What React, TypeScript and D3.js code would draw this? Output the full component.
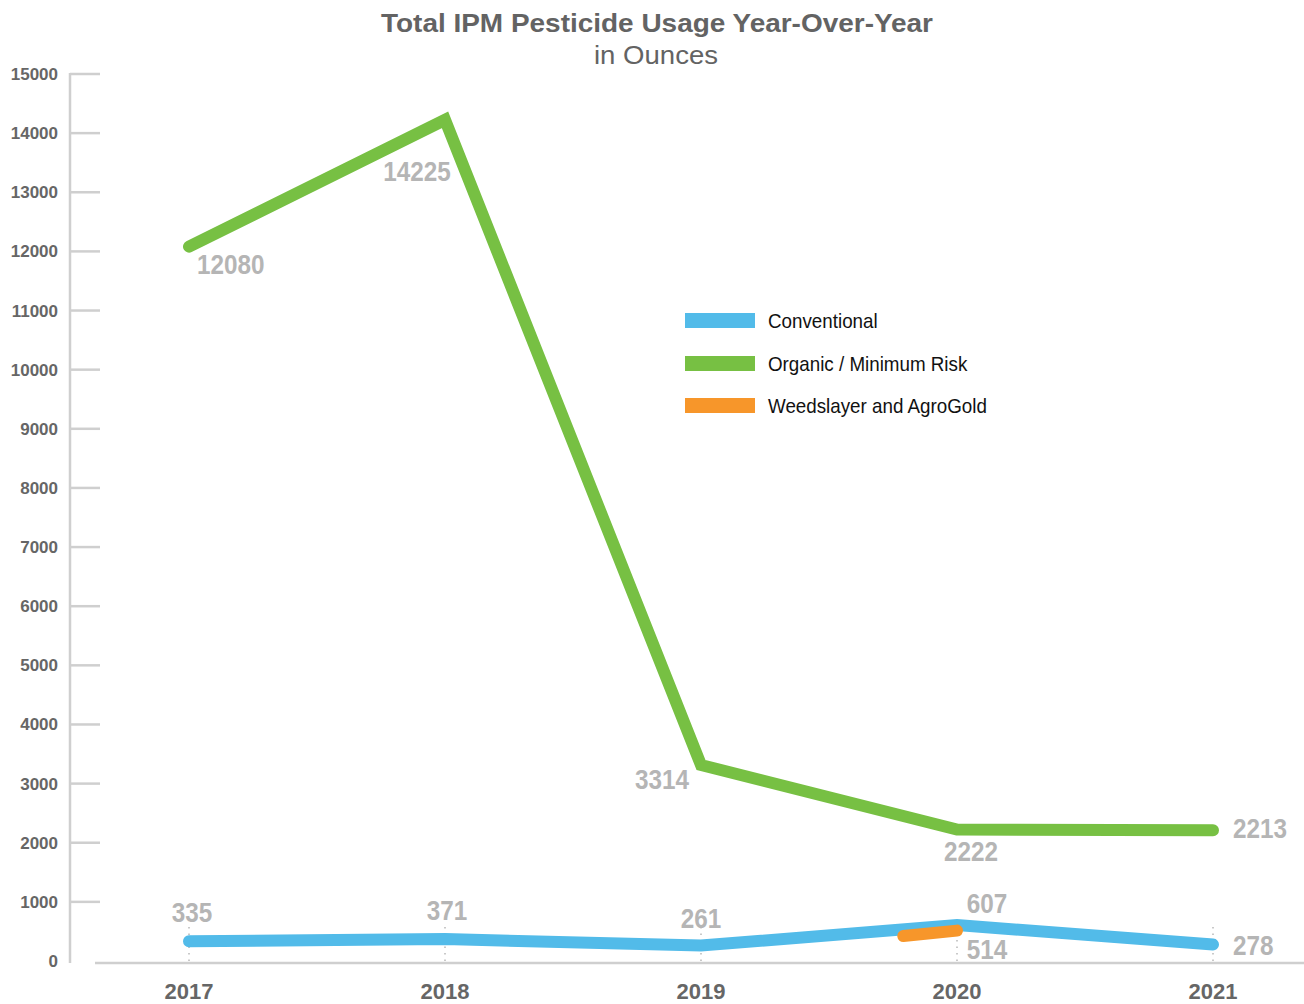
import React from "react";
import * as d3 from "d3";

const years = [2017, 2018, 2019, 2020, 2021];
const conventional = [335, 371, 261, 607, 278];
const organic = [12080, 14225, 3314, 2222, 2213];
const weedYears = [2019.79, 2020];
const weedValues = [423, 514];
const yTicks = [0, 1000, 2000, 3000, 4000, 5000, 6000, 7000, 8000, 9000, 10000, 11000, 12000, 13000, 14000, 15000];
const legendLabels = ["Conventional", "Organic / Minimum Risk", "Weedslayer and AgroGold"];
const colors = ["#52bbe9", "#77c043", "#f7962a"];

// label offsets per point [dx, dy, anchor]
const convLabelPos: [number, number, string][] = [
  [3, -19, "middle"], [2, -19, "middle"], [0, -18, "middle"], [30, -12, "middle"], [20, 10, "start"],
];
const orgLabelPos: [number, number, string][] = [
  [8, 27, "start"], [-28, 61, "middle"], [-39, 24, "middle"], [14, 31, "middle"], [20, 8, "start"],
];
const weedLabelPos: [number, number, string] = [30, 28, "middle"];

const font = "'Liberation Sans', Arial, Helvetica, sans-serif";

function NText(props: { x: number; y: number; anchor?: string; sx: number; size: number; weight?: string; fill: string; children: any }) {
  const { x, y, anchor, sx, size, weight, fill, children } = props;
  return (
    <text transform={`translate(${x},${y}) scale(${sx},1)`} textAnchor={(anchor || "start") as any}
      fontFamily={font} fontWeight={weight || "normal"} fontSize={size} fill={fill}>{children}</text>
  );
}

export default function App() {
  const W = 1304, H = 1004;
  const x = d3.scaleLinear().domain([2017, 2021]).range([189, 1213]);
  const y = d3.scaleLinear().domain([0, 15000]).range([961, 74]);
  const line = d3.line<[number, number]>().x(d => x(d[0])).y(d => y(d[1]));
  const convPts = years.map((yr, i) => [yr, conventional[i]] as [number, number]);
  const orgPts = years.map((yr, i) => [yr, organic[i]] as [number, number]);
  const weedPts = weedYears.map((yr, i) => [yr, weedValues[i]] as [number, number]);
  const labelFill = "#b5b5b5";

  return (
    <svg width={W} height={H} style={{ position: "absolute", left: 0, top: 0, background: "#fff" }}>
      {/* Title */}
      <text x={381} y={32} textLength={552} lengthAdjust="spacingAndGlyphs" fontFamily={font} fontWeight="bold" fontSize={25} fill="#636363">
        Total IPM Pesticide Usage Year-Over-Year
      </text>
      <text x={594} y={64} textLength={124} lengthAdjust="spacingAndGlyphs" fontFamily={font} fontSize={25} fill="#636363">
        in Ounces
      </text>

      {/* Y axis */}
      <line x1={70} x2={70} y1={y(15000) - 1} y2={963} stroke="#cfcfcf" strokeWidth={2.5} />
      {yTicks.map(t => (
        <g key={t}>
          {t > 0 && <line x1={70} x2={100} y1={y(t)} y2={y(t)} stroke="#cfcfcf" strokeWidth={2.5} />}
          <text x={58} y={y(t) + 6} textAnchor="end" fontFamily={font} fontWeight="bold" fontSize={17}
            fill="#666">{t}</text>
        </g>
      ))}

      {/* X axis */}
      <line x1={95} x2={1304} y1={963} y2={963} stroke="#cfcfcf" strokeWidth={2.5} />
      {years.map(yr => (
        <g key={yr}>
          <line x1={x(yr)} x2={x(yr)} y1={961} y2={y(650)} stroke="#b8b8b8" strokeWidth={1.5} strokeDasharray="1.5,5" />
          <text x={x(yr)} y={999} textAnchor="middle" fontFamily={font} fontWeight="bold" fontSize={22}
            fill="#666">{yr}</text>
        </g>
      ))}

      {/* Lines */}
      <path d={line(orgPts) || ""} fill="none" stroke={colors[1]} strokeWidth={12} strokeLinecap="round" strokeLinejoin="miter" />
      <path d={line(convPts) || ""} fill="none" stroke={colors[0]} strokeWidth={12} strokeLinecap="round" strokeLinejoin="miter" />
      <path d={line(weedPts) || ""} fill="none" stroke={colors[2]} strokeWidth={12} strokeLinecap="round" />

      {/* Labels */}
      {convPts.map((p, i) => (
        <NText key={"c" + i} x={x(p[0]) + convLabelPos[i][0]} y={y(p[1]) + convLabelPos[i][1]}
          anchor={convLabelPos[i][2]} sx={0.9} size={27} weight="bold" fill={labelFill}>{p[1]}</NText>
      ))}
      {orgPts.map((p, i) => (
        <NText key={"o" + i} x={x(p[0]) + orgLabelPos[i][0]} y={y(p[1]) + orgLabelPos[i][1]}
          anchor={orgLabelPos[i][2]} sx={0.9} size={27} weight="bold" fill={labelFill}>{p[1]}</NText>
      ))}
      <NText x={x(2020) + weedLabelPos[0]} y={y(514) + weedLabelPos[1]} anchor="middle"
        sx={0.9} size={27} weight="bold" fill={labelFill}>{weedValues[1]}</NText>

      {/* Legend */}
      {legendLabels.map((l, i) => {
        const ly = [313, 356, 398][i];
        return (
          <g key={l}>
            <rect x={685} y={ly} width={70} height={15} fill={colors[i]} />
            <NText x={768} y={ly + 15} sx={0.94} size={20} fill="#111">{l}</NText>
          </g>
        );
      })}
    </svg>
  );
}
